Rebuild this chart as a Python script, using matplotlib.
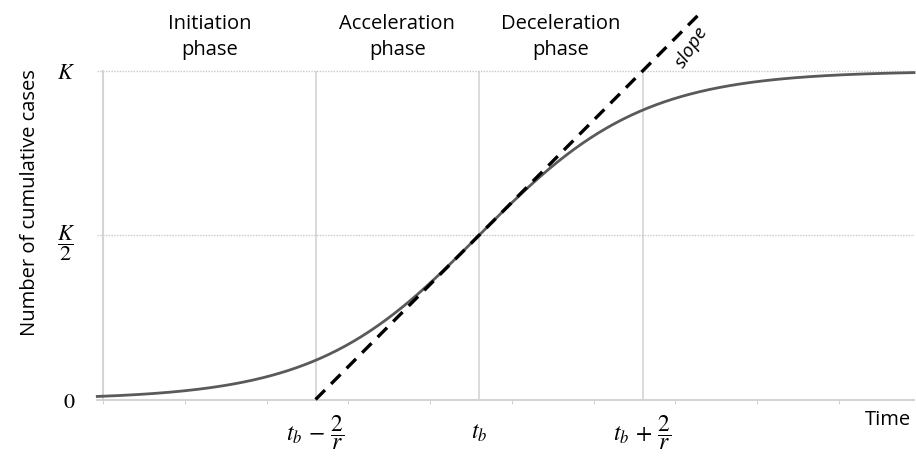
import numpy as np
import matplotlib
matplotlib.use('Agg')
from matplotlib import pyplot as plt

# logistic growth: parameters (time in tick units)
K = 1.0
t_b = 4.6
r = 1.0
t_max = 9.92
phase_names = ['Initiation\nphase', 'Acceleration\nphase', 'Deceleration\nphase']
phase_centres = [1.3, 3.6, 5.6]
y_ticks = [0, 0.5, 1.0]
y_labels = ['$0$', r'$\dfrac{K}{2}$', '$K$']
x_ticks = [t_b - 2 / r, t_b, t_b + 2 / r]
x_labels = [r'$t_b\,-\,\dfrac{2}{r}$', '$t_b$', r'$t_b\,+\,\dfrac{2}{r}$']

plt.rcParams['font.family'] = ['Open Sans', 'DejaVu Sans']
plt.rcParams['mathtext.fontset'] = 'stix'

fig = plt.figure(figsize=(9.16, 4.57), dpi=100)
ax = fig.add_axes([103 / 916, 1 - 399.5 / 457, 811 / 916, 328.5 / 457])

t = np.linspace(-0.07, t_max, 400)
cases = K / (1 + np.exp(-r * (t - t_b)))

# guide lines
for xv in x_ticks:
    ax.axvline(xv, color='#d4d4d4', lw=1.2, zorder=1)
for yv in [K / 2, K]:
    ax.plot([-0.07, t_max], [yv, yv], color='#c8c8c8', lw=1, ls=(0, (1, 1)),
            clip_on=False, zorder=1)

ax.plot(t, cases, color='#5a5a5a', lw=2, zorder=3, clip_on=False)

# tangent at the inflection point, slope rK/4
tl = np.array([t_b - 2 / r, 7.3])
ax.plot(tl, K / 2 + r * K / 4 * (tl - t_b), color='black', lw=2.4,
        ls=(0, (4, 2.6)), clip_on=False, zorder=4)
ax.text(7.2, 1.073, 'slope', rotation=57, style='italic', fontsize=14,
        ha='center', va='center', rotation_mode='anchor')

for name, xc in zip(phase_names, phase_centres):
    ax.text(xc, 1.103, name, ha='center', va='center', fontsize=14.5,
            linespacing=1.4)

ax.set_xlim(0, t_max)
ax.set_ylim(0, K)
for s in ['top', 'right']:
    ax.spines[s].set_visible(False)
for s in ['left', 'bottom']:
    ax.spines[s].set_color('#d4d4d4')
    ax.spines[s].set_linewidth(1.5)
ax.spines['bottom'].set_bounds(-0.07, t_max)

ax.set_yticks(y_ticks)
ax.set_yticklabels(y_labels, fontsize=16)
ax.tick_params(axis='y', length=0, pad=20)
ax.set_xticks(x_ticks)
ax.set_xticklabels([])
ax.tick_params(axis='x', which='major', length=0)
for xv, lab in zip(x_ticks, x_labels):
    ax.text(xv, -0.1, lab, ha='center', va='center', fontsize=17)
ax.set_xticks(np.arange(0, 10), minor=True)
ax.tick_params(axis='x', which='minor', length=3, color='#c8c8c8')

ax.set_ylabel('Number of cumulative cases', fontsize=14.5)
ax.yaxis.set_label_coords(-0.078, 0.6)
ax.text(9.88, -0.062, 'Time', ha='right', va='center', fontsize=14.5)

plt.savefig('out.png', dpi=100)
